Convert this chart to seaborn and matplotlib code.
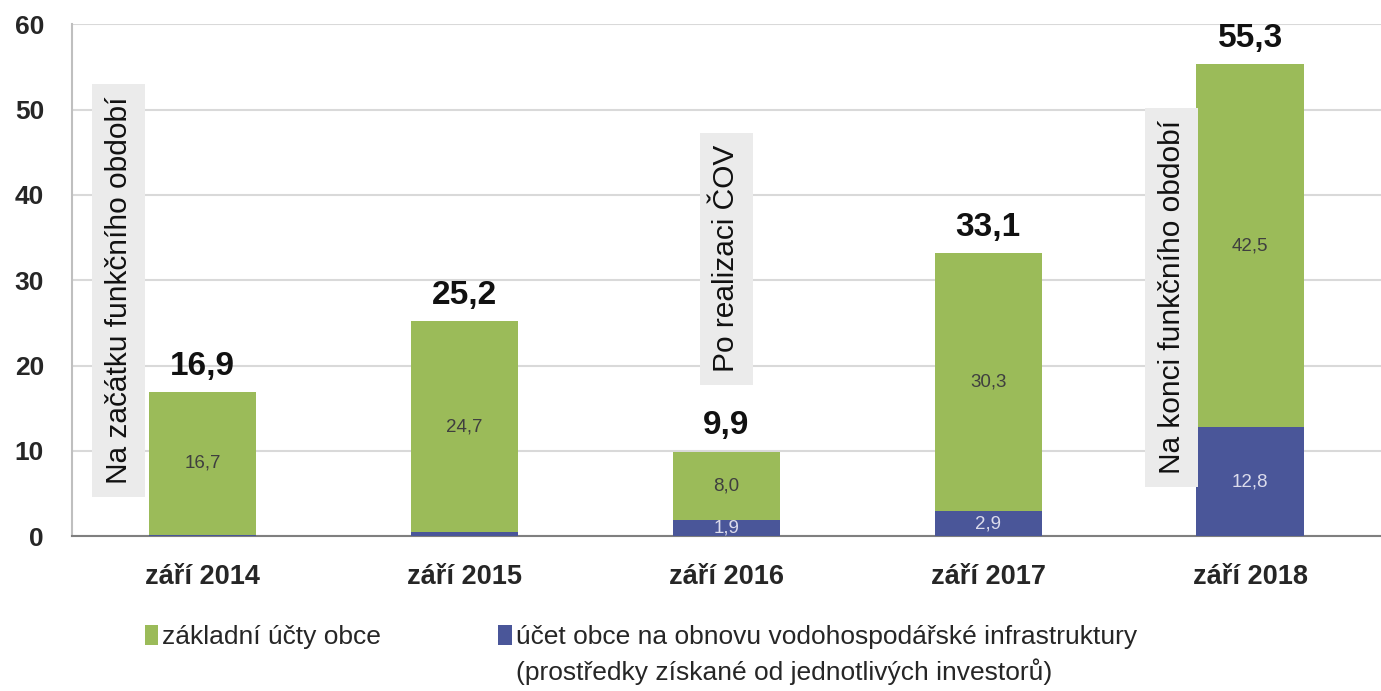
import matplotlib
matplotlib.use("Agg")
import matplotlib.pyplot as plt
from matplotlib.patches import Patch
import seaborn as sns
import pandas as pd

# data
periods = ["září 2014", "září 2015", "září 2016", "září 2017", "září 2018"]
invest_acct = [0.2, 0.5, 1.9, 2.9, 12.8]     # blue, bottom
basic_acct = [16.7, 24.7, 8.0, 30.3, 42.5]    # green, top
totals = [16.9, 25.2, 9.9, 33.1, 55.3]        # labels printed on top

notes = ["Na začátku funkčního období", "Po realizaci ČOV", "Na konci funkčního období"]
note_x = [-0.32, 2.0, 3.7]
note_y = [28.8, 32.5, 28.0]

green = "#9bbb59"
blue = "#4a5699"

df = pd.DataFrame({"period": periods, "blue": invest_acct, "green": basic_acct})
df["stack"] = df["blue"] + df["green"]

sns.set_style("white")
plt.rcParams["font.family"] = ["Liberation Sans", "DejaVu Sans"]

fig = plt.figure(figsize=(13.81, 6.91), dpi=100)
ax = fig.add_axes([0.052, 0.224, 0.948, 0.741])

sns.barplot(data=df, x="period", y="stack", color=green, width=0.41,
            saturation=1, linewidth=0, ax=ax, zorder=2)
sns.barplot(data=df, x="period", y="blue", color=blue, width=0.41,
            saturation=1, linewidth=0, ax=ax, zorder=3)

ax.set_ylim(0, 60)
ax.set_xlim(-0.5, 4.5)
ax.set_yticks(range(0, 61, 10))
ax.grid(axis="y", color="#d9d9d9", linewidth=1.5, zorder=0)
ax.set_axisbelow(True)
for s in ["top", "right"]:
    ax.spines[s].set_visible(False)
ax.spines["left"].set_color("#bfbfbf")
ax.spines["left"].set_linewidth(1.5)
ax.spines["bottom"].set_color("#7f7f7f")
ax.spines["bottom"].set_linewidth(1.5)
ax.set_xlabel("")
ax.set_ylabel("")
ax.tick_params(axis="both", length=0, labelsize=19)
ax.tick_params(axis="x", labelsize=19.5, pad=20)
ax.tick_params(axis="y", pad=20)
for lbl in ax.get_xticklabels() + ax.get_yticklabels():
    lbl.set_fontweight("bold")

for i in range(len(periods)):
    b, g = invest_acct[i], basic_acct[i]
    ax.text(i, b + g / 2, f"{g:.1f}".replace(".", ","), ha="center", va="center",
            fontsize=13.5, color="#3f3f3f", zorder=4)
    if b >= 1:
        ax.text(i, b / 2, f"{b:.1f}".replace(".", ","), ha="center", va="center",
                fontsize=13.5, color="#dcdcec", zorder=4)
    ax.text(i, b + g + 1.2, f"{totals[i]:.1f}".replace(".", ","), ha="center",
            va="bottom", fontsize=24, fontweight="bold", color="#111111", zorder=4)

for t, x, y in zip(notes, note_x, note_y):
    ax.text(x, y, t, rotation=90, ha="center", va="center", fontsize=21.5,
            color="#111111", zorder=5,
            bbox=dict(boxstyle="square,pad=0.42", facecolor="#ebebeb", edgecolor="none"))

handles = [Patch(facecolor=green, edgecolor="none"), Patch(facecolor=blue, edgecolor="none")]
labels = ["základní účty obce", "účet obce na obnovu vodohospodářské infrastruktury"]
leg = fig.legend(handles, labels, loc="center left", bbox_to_anchor=(0.105, 0.078), ncol=2,
                 frameon=False, fontsize=19, handlelength=0.5, handleheight=0.75,
                 handletextpad=0.15, columnspacing=4.45, borderaxespad=0, borderpad=0)

# second line of the blue legend entry, aligned under its first line
fig.canvas.draw()
bb = leg.get_texts()[1].get_window_extent().transformed(fig.transFigure.inverted())
fig.text(bb.x0, bb.y0 - 0.014, "(prostředky získané od jednotlivých investorů)",
         ha="left", va="top", fontsize=19, color="#262626")

fig.savefig("out.png", dpi=100)
